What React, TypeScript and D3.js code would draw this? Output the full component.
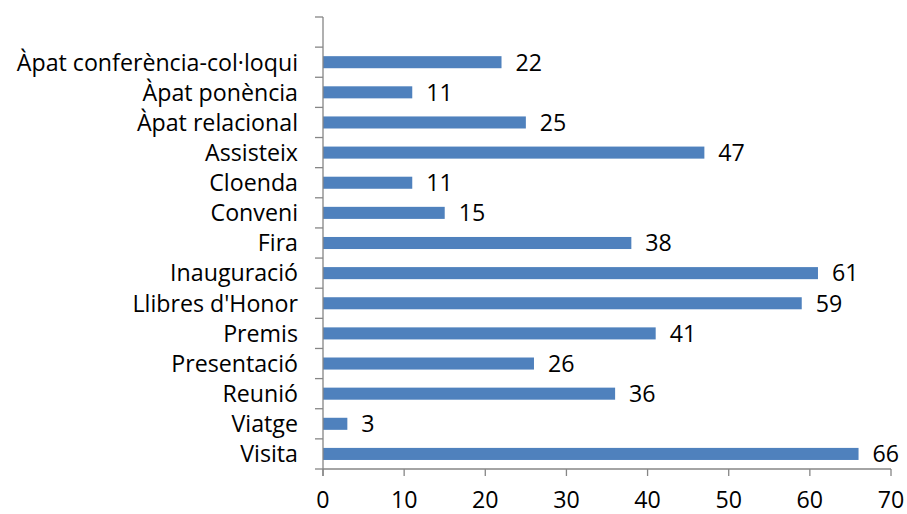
import React, { useEffect, useRef } from "react";
import * as d3 from "d3";

const categories = [
  "Àpat conferència-col·loqui",
  "Àpat ponència",
  "Àpat relacional",
  "Assisteix",
  "Cloenda",
  "Conveni",
  "Fira",
  "Inauguració",
  "Llibres d'Honor",
  "Premis",
  "Presentació",
  "Reunió",
  "Viatge",
  "Visita",
];
const values = [22, 11, 25, 47, 11, 15, 38, 61, 59, 41, 26, 36, 3, 66];
const xTicks = [0, 10, 20, 30, 40, 50, 60, 70];

const W = 907;
const H = 514;
const FONT = "'Open Sans', sans-serif";
const FS = 23.2;

export default function App() {
  const ref = useRef<SVGSVGElement | null>(null);

  useEffect(() => {
    const svg = d3.select(ref.current);
    svg.selectAll("*").remove();

    const left = 323;
    const right = 891;
    const top = 17;
    const bottom = 469;

    const x = d3.scaleLinear().domain([0, 70]).range([left, right]);
    // excel left an empty slot above the first category
    const y = d3
      .scaleBand<string>()
      .domain(["__blank", ...categories])
      .range([top, bottom])
      .paddingInner(0.6)
      .paddingOuter(0.3);
    const step = y.step();

    const axisColor = "#868686";

    // bars
    svg
      .append("g")
      .selectAll("rect")
      .data(categories)
      .join("rect")
      .attr("x", x(0))
      .attr("y", (d) => y(d)!)
      .attr("width", (_, i) => x(values[i]) - x(0))
      .attr("height", y.bandwidth())
      .attr("fill", "#4F81BD");

    // value labels
    svg
      .append("g")
      .selectAll("text")
      .data(categories)
      .join("text")
      .attr("x", (_, i) => x(values[i]) + 14)
      .attr("y", (d) => y(d)! + y.bandwidth() / 2)
      .attr("dy", "0.36em")
      .attr("font-family", FONT)
      .attr("font-size", FS)
      .attr("fill", "#000")
      .text((_, i) => values[i]);

    // y axis line + ticks
    const ax = svg.append("g").attr("stroke", axisColor).attr("stroke-width", 1.3);
    ax.append("line")
      .attr("x1", left)
      .attr("x2", left)
      .attr("y1", top)
      .attr("y2", bottom + 7);
    const boundaries = d3.range(0, 16).map((i) => top + i * step);
    ax.selectAll("line.yt")
      .data(boundaries)
      .join("line")
      .attr("class", "yt")
      .attr("x1", left - 8)
      .attr("x2", left)
      .attr("y1", (d) => d)
      .attr("y2", (d) => d);

    // x axis line + ticks
    ax.append("line")
      .attr("x1", left)
      .attr("x2", right)
      .attr("y1", bottom)
      .attr("y2", bottom);
    ax.selectAll("line.xt")
      .data(xTicks)
      .join("line")
      .attr("class", "xt")
      .attr("x1", (d) => x(d))
      .attr("x2", (d) => x(d))
      .attr("y1", bottom)
      .attr("y2", bottom + 7);

    // x tick labels
    svg
      .append("g")
      .selectAll("text")
      .data(xTicks)
      .join("text")
      .attr("x", (d) => x(d))
      .attr("y", 508)
      .attr("text-anchor", "middle")
      .attr("font-family", FONT)
      .attr("font-size", FS)
      .text((d) => d);

    // category labels
    svg
      .append("g")
      .selectAll("text")
      .data(categories)
      .join("text")
      .attr("x", left - 25)
      .attr("y", (d) => y(d)! + y.bandwidth() / 2)
      .attr("dy", "0.36em")
      .attr("text-anchor", "end")
      .attr("font-family", FONT)
      .attr("font-size", FS)
      .text((d) => d);
  }, []);

  return (
    <svg
      ref={ref}
      width={W}
      height={H}
      style={{ position: "absolute", left: 0, top: 0, background: "#fff" }}
    />
  );
}
